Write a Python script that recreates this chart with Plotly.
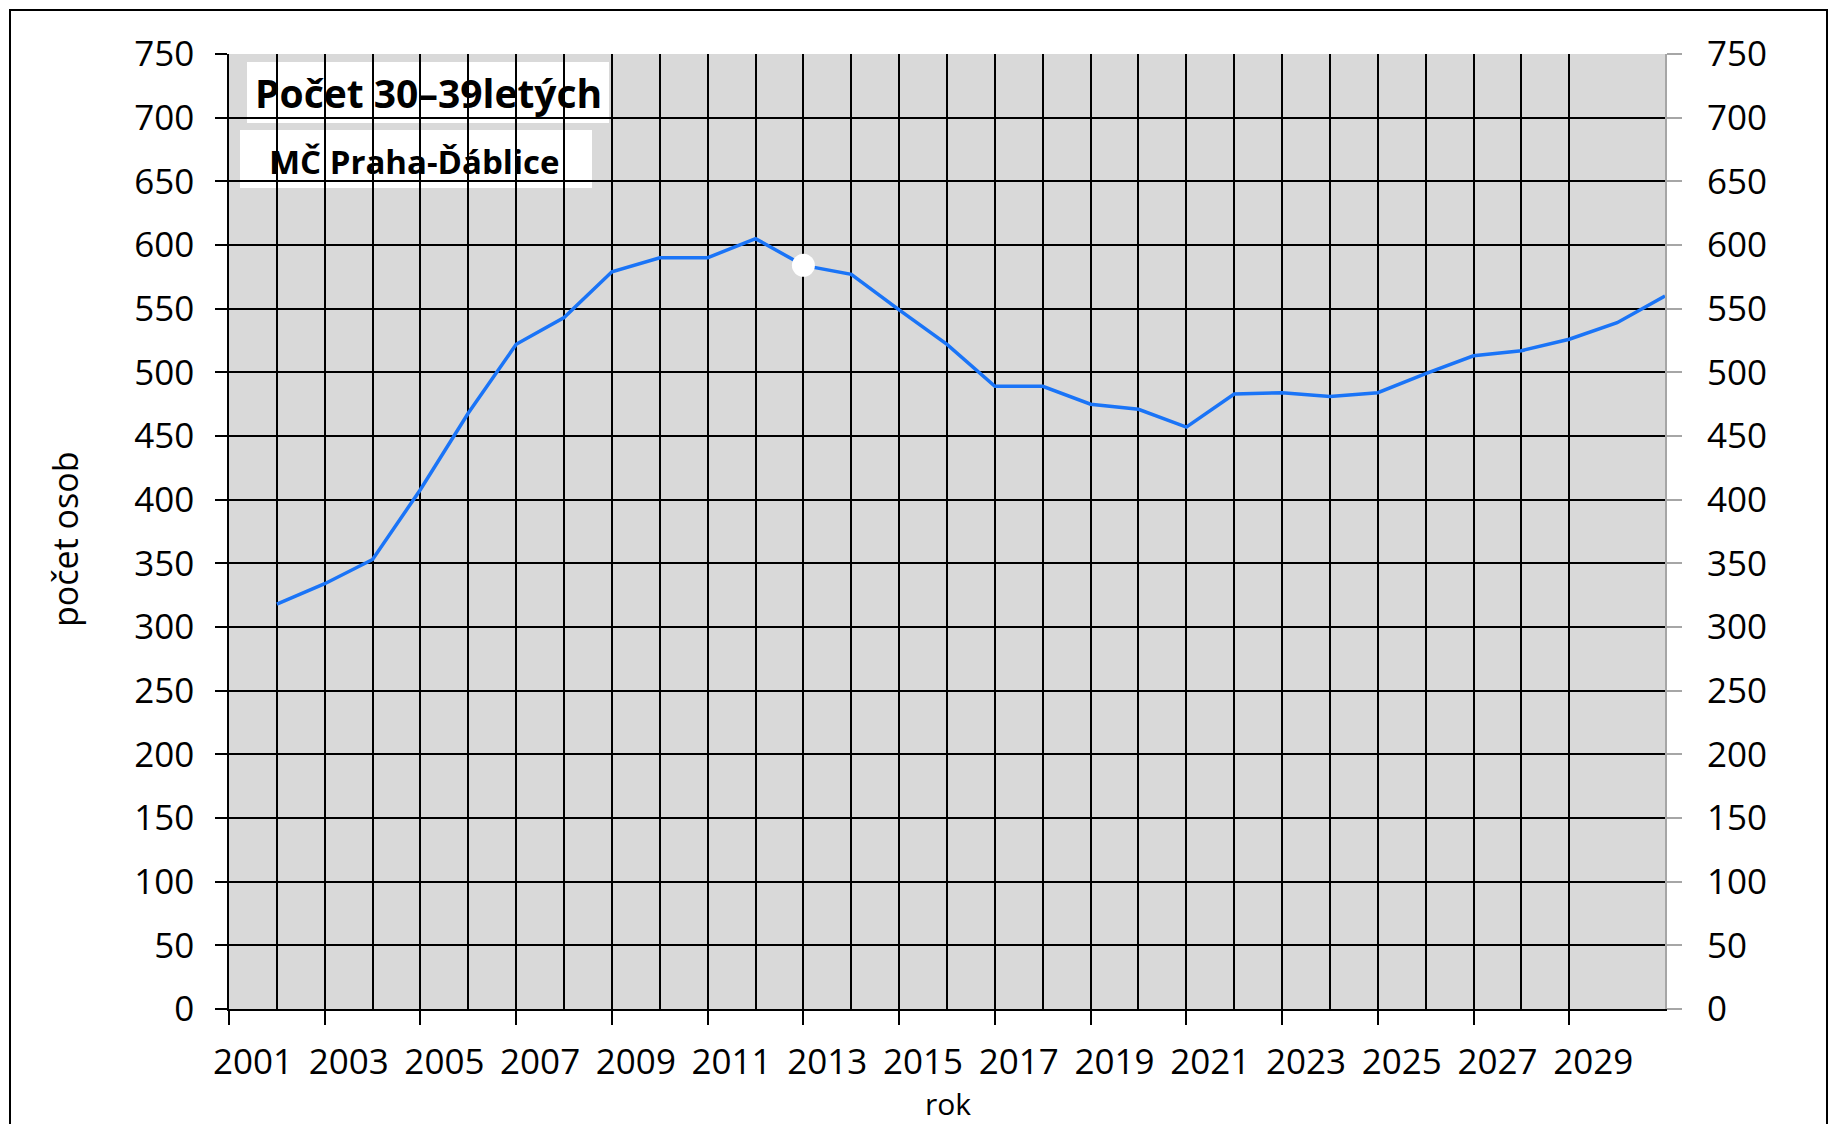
import plotly.graph_objects as go

# ---- data -------------------------------------------------------------
years = list(range(2001, 2031))            # stav ke konci roku
values = [318, 334, 353, 408, 468, 522, 543, 579, 590, 590,
          605, 584, 577, 549, 522, 489, 489, 475, 471, 457,
          483, 484, 481, 484, 499, 513, 517, 526, 539, 560]
highlight_year = 2012
tick_years = list(range(2001, 2030, 2))
tick_labels = [str(y) for y in tick_years]
y_ticks = list(range(0, 751, 50))

title_text = "Počet 30–39letých"
subtitle_text = "MČ Praha-Ďáblice"
x_title = "rok"
y_title = "počet osob"

# ---- geometry (page pixels; the page body has an 8 px margin) ----------
OFF = 8
W, H = 1837 - 2 * OFF, 1132 - 2 * OFF
L, R, T, B = 229 - OFF, 1665 - OFF, 54 - OFF, 1009 - OFF
def px(x):
    return (x - OFF - L) / (R - L)
def py(y):
    return (B - (y - OFF)) / (B - T)

FONT = "Open Sans"
TICK = 35
line_x = [y + 0.5 for y in years]          # end-of-year position
hi_idx = years.index(highlight_year)

fig = go.Figure()
fig.add_trace(go.Scatter(
    x=line_x, y=values, mode="lines",
    line=dict(color="#1a74f7", width=3.5),
    hoverinfo="skip", showlegend=False,
    xaxis="x", yaxis="y"))
fig.add_trace(go.Scatter(
    x=[line_x[hi_idx]], y=[values[hi_idx]], mode="markers",
    marker=dict(color="white", size=23, line=dict(width=0)),
    hoverinfo="skip", showlegend=False,
    xaxis="x2", yaxis="y2"))

xr = [years[0] - 0.5, years[-1] + 0.5]
major_b = [y - 0.5 for y in years[::2]]
minor_b = [y + 0.5 for y in years[::2]][:-1]

fig.update_layout(
    width=W, height=H,
    margin=dict(l=L, r=W - R, t=T, b=H - B, autoexpand=False),
    paper_bgcolor="white", plot_bgcolor="#d9d9d9",
    font=dict(family=FONT, size=TICK, color="black"),
    xaxis=dict(
        range=xr, tickmode="array", tickvals=major_b, showticklabels=False,
        ticks="outside", ticklen=14, tickwidth=1.5, tickcolor="black",
        showgrid=True, gridcolor="black", gridwidth=1.6,
        minor=dict(tickmode="array", tickvals=minor_b, showgrid=True,
                   gridcolor="black", gridwidth=1.6, ticks=""),
        showline=True, linecolor="black", linewidth=1.6,
        zeroline=False, fixedrange=True),
    xaxis2=dict(
        range=xr, overlaying="x", anchor="y", side="bottom",
        tickmode="array", tickvals=tick_years, ticktext=tick_labels,
        ticks="outside", ticklen=22, tickcolor="rgba(0,0,0,0)",
        showgrid=False, showline=False, zeroline=False,
        tickfont=dict(family=FONT, size=TICK, color="black")),
    yaxis=dict(
        range=[0, 750], tickmode="array", tickvals=y_ticks,
        ticks="outside", ticklen=12, tickwidth=1.5, tickcolor="black",
        showgrid=True, gridcolor="black", gridwidth=1.6,
        showline=True, linecolor="black", linewidth=1.6,
        zeroline=False, ticklabelstandoff=14,
        tickfont=dict(family=FONT, size=TICK, color="black")),
    yaxis2=dict(
        range=[0, 750], overlaying="y", side="right", anchor="x",
        tickmode="array", tickvals=y_ticks,
        ticks="outside", ticklen=15, tickwidth=1.5, tickcolor="#a6a6a6",
        showgrid=False, showline=True, linecolor="#a6a6a6", linewidth=2,
        zeroline=False, ticklabelstandoff=18,
        tickfont=dict(family=FONT, size=TICK, color="black")),
    shapes=[
        dict(type="rect", xref="paper", yref="paper",
             x0=px(10), x1=px(1827), y0=py(1150), y1=py(10),
             line=dict(color="black", width=2), fillcolor="rgba(0,0,0,0)",
             layer="above"),
        dict(type="rect", xref="paper", yref="paper",
             x0=px(247), x1=px(609), y0=py(123), y1=py(62),
             line=dict(width=0), fillcolor="white", layer="between"),
        dict(type="rect", xref="paper", yref="paper",
             x0=px(240), x1=px(592), y0=py(188), y1=py(130),
             line=dict(width=0), fillcolor="white", layer="between"),
    ],
    annotations=[
        dict(text=f"<b>{title_text}</b>", xref="paper", yref="paper",
             x=px(428), y=py(93), xanchor="center", yanchor="middle",
             showarrow=False, font=dict(family=FONT, size=39, color="black")),
        dict(text=f"<b>{subtitle_text}</b>", xref="paper", yref="paper",
             x=px(414), y=py(161), xanchor="center", yanchor="middle",
             showarrow=False, font=dict(family=FONT, size=33, color="black")),
        dict(text=x_title, xref="paper", yref="paper",
             x=px(948), y=py(1103), xanchor="center", yanchor="middle",
             showarrow=False, borderpad=0,
             font=dict(family=FONT, size=30, color="black")),
        dict(text=y_title, xref="paper", yref="paper", textangle=-90,
             x=px(65), y=py(539), xanchor="center", yanchor="middle",
             showarrow=False, font=dict(family=FONT, size=34, color="black")),
    ],
)

fig.write_html("out.html")
